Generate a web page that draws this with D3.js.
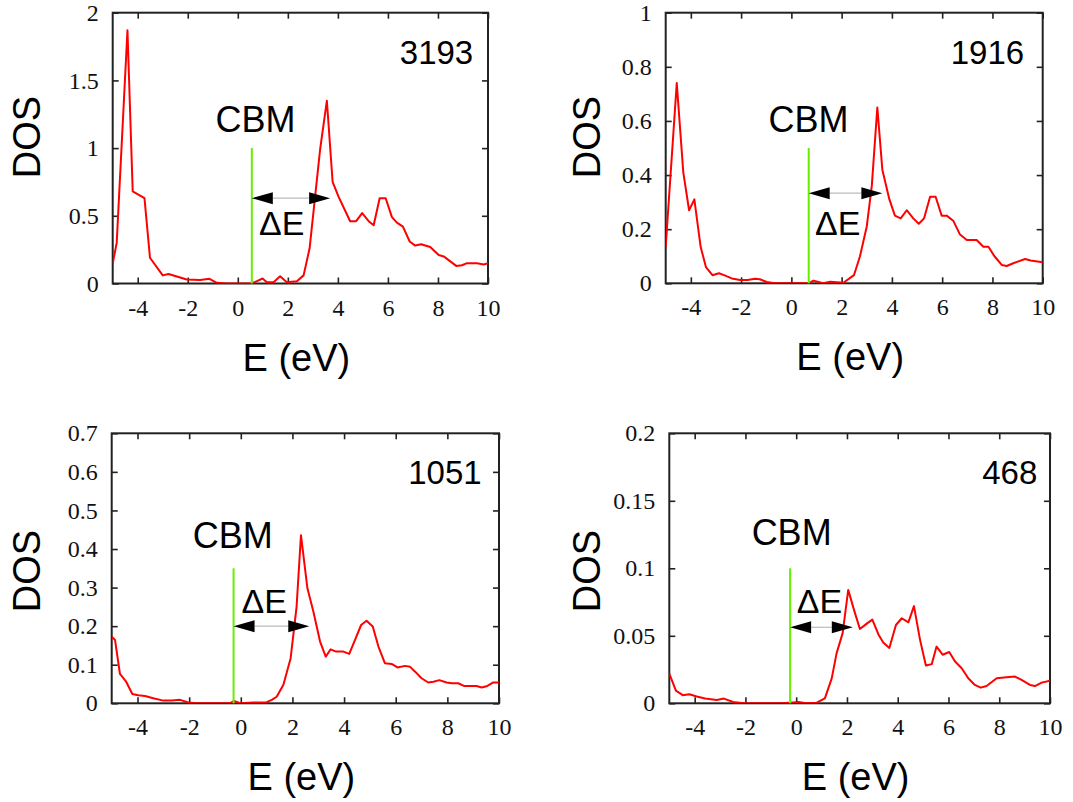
<!DOCTYPE html>
<html>
<head>
<meta charset="utf-8">
<script src="https://cdnjs.cloudflare.com/ajax/libs/d3/7.8.5/d3.min.js"></script>
<style>
  body { margin: 0; background: #fff; }
  .tick text { font-family: "Liberation Serif", "Times New Roman", serif; font-size: 24px; fill: #111; }
  .lbl { font-family: "Liberation Sans", Arial, sans-serif; fill: #000; }
</style>
</head>
<body>
<script>
// DOS curves, one (E, DOS) pair list per system size
var e3193   = [-5,-4.84,-4.41,-4.2,-3.73,-3.51,-3.0,-2.77,-2.04,-1.51,-1.13,-0.84,-0.44,0.56,0.99,1.16,1.43,1.69,1.96,2.36,2.63,2.87,3.29,3.56,3.79,4.03,4.49,4.73,4.97,5.23,5.43,5.67,5.91,6.16,6.36,6.6,6.87,7.09,7.33,7.69,8.03,8.23,8.73,8.96,9.16,9.56,9.83,10];
var dos3193 = [0.148,0.30,1.87,0.68,0.63,0.19,0.06,0.07,0.03,0.025,0.035,0.005,0,0,0.037,0.01,0.01,0.054,0.01,0.017,0.06,0.26,0.99,1.35,0.75,0.64,0.46,0.46,0.52,0.46,0.43,0.63,0.63,0.49,0.45,0.42,0.31,0.28,0.29,0.27,0.21,0.20,0.13,0.135,0.15,0.15,0.14,0.15];

var e1916   = [-5,-4.56,-4.3,-4.07,-3.86,-3.61,-3.4,-3.14,-2.88,-2.68,-2.37,-2.04,-1.74,-1.45,-1.25,-0.98,-0.65,0.69,0.88,1.27,1.54,2.07,2.49,2.73,3.0,3.2,3.42,3.62,3.9,4.12,4.35,4.59,4.85,5.07,5.28,5.52,5.74,5.98,6.18,6.45,6.71,6.98,7.37,7.64,7.84,8.08,8.37,8.57,8.83,9.3,9.52,10];
var dos1916 = [0.135,0.74,0.41,0.27,0.31,0.135,0.06,0.03,0.037,0.03,0.018,0.012,0.012,0.017,0.015,0.005,0,0,0.01,0,0.006,0.002,0.03,0.1,0.21,0.36,0.65,0.42,0.31,0.25,0.24,0.27,0.24,0.22,0.24,0.32,0.32,0.25,0.25,0.23,0.18,0.16,0.16,0.135,0.135,0.1,0.068,0.064,0.074,0.09,0.084,0.078];

var e1051   = [-5,-4.87,-4.68,-4.44,-4.2,-3.97,-3.71,-3.39,-3.0,-2.68,-2.35,-2.03,-1.71,-0.42,-0.26,-0.03,0.49,1.0,1.2,1.39,1.65,1.93,2.16,2.33,2.58,2.81,3.07,3.29,3.48,3.69,3.97,4.2,4.42,4.66,4.87,5.11,5.33,5.58,5.84,6.07,6.36,6.55,6.75,7.0,7.26,7.46,7.69,7.97,8.17,8.42,8.64,8.88,9.13,9.33,9.55,9.78,10];
var dos1051 = [0.173,0.164,0.076,0.056,0.024,0.021,0.019,0.013,0.007,0.007,0.009,0.002,0,0,0.006,0,0.002,0.003,0.009,0.017,0.048,0.117,0.25,0.436,0.298,0.238,0.16,0.121,0.14,0.134,0.134,0.128,0.164,0.203,0.214,0.199,0.147,0.104,0.102,0.093,0.097,0.095,0.082,0.065,0.054,0.056,0.06,0.054,0.052,0.052,0.045,0.045,0.045,0.041,0.045,0.054,0.054];

var e468    = [-5,-4.74,-4.47,-4.21,-3.92,-3.59,-3.13,-2.85,-2.48,-2.08,-0.64,-0.24,0.08,0.41,0.81,1.13,1.4,1.59,1.83,2.05,2.28,2.51,2.78,3.0,3.24,3.43,3.67,3.93,4.16,4.42,4.64,4.88,5.11,5.34,5.53,5.77,6.03,6.26,6.52,6.78,7.04,7.27,7.5,7.9,8.29,8.62,8.88,9.21,9.41,9.67,10];
var dos468  = [0.022,0.0094,0.006,0.0067,0.005,0.0035,0.0025,0.0035,0.001,0,0,0.0005,0.001,0,0.0005,0.0037,0.0185,0.037,0.052,0.084,0.069,0.055,0.059,0.062,0.051,0.045,0.041,0.058,0.063,0.06,0.072,0.047,0.028,0.029,0.042,0.036,0.038,0.031,0.026,0.0185,0.0136,0.0116,0.0128,0.0185,0.0193,0.0198,0.0173,0.0136,0.0128,0.0153,0.0168];

// tick labels
var xTicks = [-4,-2,0,2,4,6,8,10];
var yTicks3193 = [0,0.5,1,1.5,2];
var yTicks1916 = [0,0.2,0.4,0.6,0.8,1];
var yTicks1051 = [0,0.1,0.2,0.3,0.4,0.5,0.6,0.7];
var yTicks468  = [0,0.05,0.1,0.15,0.2];

// CBM marker: energy, top of green line, arrow height, arrow tip energy
var cbmE     = [0.56, 0.69, -0.28, -0.24];
var cbmTop   = [1.0, 0.5, 0.35, 0.1];
var arrowDos = [0.63, 0.333, 0.2, 0.0563];
var arrowEnd = [3.69, 3.62, 2.65, 2.23];

var sizes = ["3193", "1916", "1051", "468"];

var W = 1073, H = 802;
var svg = d3.select("body").append("svg")
    .attr("width", W)
    .attr("height", H);

var defs = svg.append("defs");

// panel layout (pixels) and annotation anchors (data coords)
var panels = [
  { e: e3193, dos: dos3193, yMax: 2,   yTicks: yTicks3193, box: [112.7, 12.7, 488, 283.5], dosX: 40,  dosY: 137,
    cbmTxt: [0.71, 1.12],  dETxt: [0.85, 0.36],  numTxt: [9.41, 1.62] },
  { e: e1916, dos: dos1916, yMax: 1,   yTicks: yTicks1916, box: [665.7, 12.7, 1042.7, 283.3], dosX: 600, dosY: 137,
    cbmTxt: [0.68, 0.56],  dETxt: [0.94, 0.178], numTxt: [9.26, 0.81] },
  { e: e1051, dos: dos1051, yMax: 0.7, yTicks: yTicks1051, box: [111.7, 433.3, 499, 703.3], dosX: 40,  dosY: 571,
    cbmTxt: [-0.31, 0.402], dETxt: [0.03, 0.233], numTxt: [9.33, 0.569] },
  { e: e468,  dos: dos468,  yMax: 0.2, yTicks: yTicks468,  box: [669.3, 433.3, 1050, 703.3], dosX: 600, dosY: 571,
    cbmTxt: [-0.18, 0.117], dETxt: [0.02, 0.067], numTxt: [9.5, 0.1625] }
];

var fmt = function(d){ return String(+d.toFixed(2)); };

panels.forEach(function(p, i){
  var x = d3.scaleLinear().domain([-5, 10]).range([p.box[0], p.box[2]]);
  var y = d3.scaleLinear().domain([0, p.yMax]).range([p.box[3], p.box[1]]);

  var g = svg.append("g");

  defs.append("clipPath").attr("id", "clip" + i)
    .append("rect")
    .attr("x", p.box[0]).attr("y", p.box[1])
    .attr("width", p.box[2] - p.box[0]).attr("height", p.box[3] - p.box[1]);

  // axes, ticks pointing inward on all sides
  g.append("g")
    .attr("transform", "translate(0," + p.box[3] + ")")
    .call(d3.axisBottom(x).tickValues(xTicks).tickSize(-6).tickPadding(15).tickFormat(fmt));
  g.append("g")
    .attr("transform", "translate(0," + p.box[1] + ")")
    .call(d3.axisTop(x).tickValues(xTicks).tickSize(-6).tickFormat(""));
  g.append("g")
    .attr("transform", "translate(" + p.box[0] + ",0)")
    .call(d3.axisLeft(y).tickValues(p.yTicks).tickSize(-6).tickPadding(14).tickFormat(fmt));
  g.append("g")
    .attr("transform", "translate(" + p.box[2] + ",0)")
    .call(d3.axisRight(y).tickValues(p.yTicks).tickSize(-6).tickFormat(""));

  g.selectAll(".domain").remove();
  g.selectAll(".tick line").attr("stroke", "#222").attr("stroke-width", 1.6);

  g.append("rect")
    .attr("x", p.box[0]).attr("y", p.box[1])
    .attr("width", p.box[2] - p.box[0]).attr("height", p.box[3] - p.box[1])
    .attr("fill", "none").attr("stroke", "#222").attr("stroke-width", 2);

  // DOS curve
  var pts = p.e.map(function(v, k){ return [v, p.dos[k]]; });
  g.append("path")
    .datum(pts)
    .attr("clip-path", "url(#clip" + i + ")")
    .attr("fill", "none")
    .attr("stroke", "#ff0000")
    .attr("stroke-width", 2)
    .attr("stroke-linejoin", "round")
    .attr("d", d3.line().x(function(d){ return x(d[0]); }).y(function(d){ return y(d[1]); }));

  // CBM line
  g.append("line")
    .attr("x1", x(cbmE[i])).attr("x2", x(cbmE[i]))
    .attr("y1", y(0)).attr("y2", y(cbmTop[i]))
    .attr("stroke", "#66ee00").attr("stroke-width", 2);

  // delta-E arrow
  var ax0 = x(cbmE[i]), ax1 = x(arrowEnd[i]), ay = y(arrowDos[i]);
  var hl = 21, hw = 6;
  g.append("line")
    .attr("x1", ax0 + hl).attr("x2", ax1 - hl)
    .attr("y1", ay).attr("y2", ay)
    .attr("stroke", "#bbb").attr("stroke-width", 1.2);
  g.append("path")
    .attr("d", "M" + ax0 + "," + ay + "L" + (ax0 + hl) + "," + (ay - hw) + "L" + (ax0 + hl) + "," + (ay + hw) + "Z")
    .attr("fill", "#000");
  g.append("path")
    .attr("d", "M" + ax1 + "," + ay + "L" + (ax1 - hl) + "," + (ay - hw) + "L" + (ax1 - hl) + "," + (ay + hw) + "Z")
    .attr("fill", "#000");

  // labels
  g.append("text").attr("class", "lbl")
    .attr("x", x(p.cbmTxt[0])).attr("y", y(p.cbmTxt[1]))
    .attr("text-anchor", "middle").attr("font-size", 36)
    .text("CBM");
  g.append("text").attr("class", "lbl")
    .attr("x", x(p.dETxt[0])).attr("y", y(p.dETxt[1]))
    .attr("font-size", 34)
    .text("\u0394E");
  g.append("text").attr("class", "lbl")
    .attr("x", x(p.numTxt[0])).attr("y", y(p.numTxt[1]))
    .attr("text-anchor", "end").attr("font-size", 33)
    .text(sizes[i]);

  g.append("text").attr("class", "lbl")
    .attr("transform", "translate(" + p.dosX + "," + p.dosY + ") rotate(-90)")
    .attr("text-anchor", "middle").attr("font-size", 38)
    .text("DOS");
  g.append("text").attr("class", "lbl")
    .attr("x", (p.box[0] + p.box[2]) / 2 - 4).attr("y", p.box[3] + 87)
    .attr("text-anchor", "middle").attr("font-size", 38)
    .text("E (eV)");
});
</script>
</body>
</html>
